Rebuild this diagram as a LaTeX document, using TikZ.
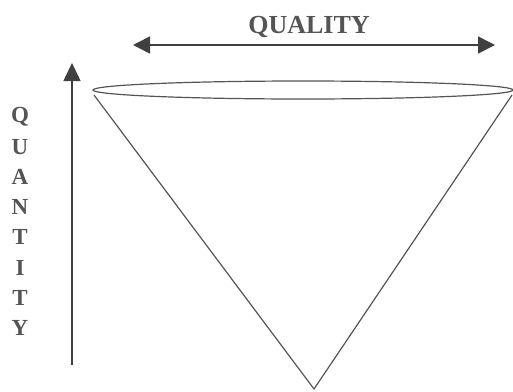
\documentclass[tikz,border=0pt]{standalone}
\usepackage{fontspec}
\setmainfont{Liberation Serif}
\usetikzlibrary{arrows.meta}
\definecolor{ink}{HTML}{555555}
\definecolor{dark}{HTML}{404040}
\tikzset{
  lbl/.style={font=\bfseries\fontsize{23}{23}\selectfont, text=ink, inner sep=0pt},
  axis/.style={draw=dark, line width=1.6pt},
  cone/.style={draw=ink, line width=1.2pt},
}
\begin{document}
\begin{tikzpicture}[x=1pt,y=-1pt]
\useasboundingbox (0,0) rectangle (513,391);
% quality arrow
\coordinate (ql) at (133,45);
\coordinate (qr) at (495,45);
\draw[axis, {Triangle[length=17pt,width=17pt,fill=dark]}-{Triangle[length=17pt,width=17pt,fill=dark]}] (ql) -- (qr);
\node[lbl, font=\bfseries\fontsize{26}{26}\selectfont, anchor=base] (quality) at (309,33) {QUALITY};
% quantity arrow
\coordinate (vb) at (72,365);
\coordinate (vt) at (72,63);
\draw[axis, -{Triangle[length=18pt,width=17pt,fill=dark]}] (vb) -- (vt);
\foreach \l [count=\i from 0] in {Q,U,A,N,T,I,T,Y}
  \node[lbl] (q\i) at (20,{117+30.1*\i}) {\l};
% cone
\coordinate (apex) at (314,389);
\coordinate (cl) at (94,95);
\coordinate (cr) at (512,95);
\draw[cone] (303,90) ellipse [x radius=210, y radius=9];
\draw[cone] (cl) -- (apex) -- (cr);
\end{tikzpicture}
\end{document}
